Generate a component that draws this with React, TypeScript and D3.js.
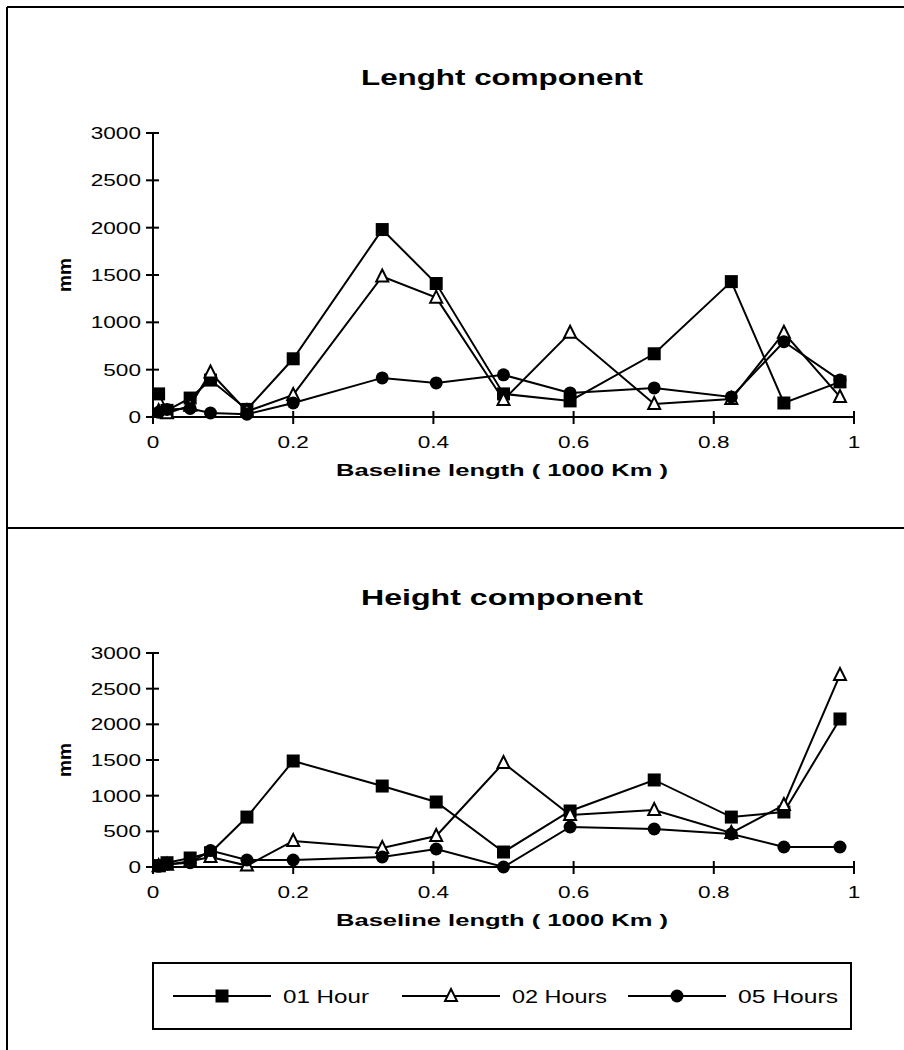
import React from "react";
import * as d3 from "d3";

const baselineKm = [0.008, 0.02, 0.053, 0.082, 0.134, 0.2, 0.327, 0.404, 0.5, 0.595, 0.715, 0.825, 0.9, 0.98];

const lengthHour1 = [244, 70, 200, 390, 80, 615, 1980, 1410, 244, 170, 668, 1430, 148, 371];
const lengthHour2 = [60, 40, 120, 470, 60, 233, 1484, 1261, 180, 890, 138, 190, 890, 212];
const lengthHour5 = [50, 80, 90, 42, 30, 148, 413, 360, 445, 254, 307, 212, 795, 390];

const heightHour1 = [20, 60, 126, 200, 700, 1486, 1135, 911, 210, 785, 1220, 700, 771, 2075];
const heightHour2 = [10, 30, 80, 140, 20, 365, 266, 435, 1458, 729, 799, 477, 869, 2692];
const heightHour5 = [10, 40, 60, 230, 98, 98, 140, 252, 0, 561, 533, 463, 280, 280];

const seriesNames = ["01 Hour", "02 Hours", "05 Hours"];
const seriesMarkers = ["square", "triangle", "circle"];
const xTicks = [0, 0.2, 0.4, 0.6, 0.8, 1];
const yTicks = [0, 500, 1000, 1500, 2000, 2500, 3000];

const FONT = "'Liberation Sans', Arial, sans-serif";
const SX = 1.33;

function Marker({ type, x, y }: { type: string; x: number; y: number }) {
  if (type === "square") return <rect x={x - 6.5} y={y - 6.5} width={13} height={13} fill="#000" />;
  if (type === "triangle")
    return (
      <path
        d={`M${x},${y - 7}L${x + 6},${y + 5}L${x - 6},${y + 5}Z`}
        fill="#fff"
        stroke="#000"
        strokeWidth={2}
      />
    );
  return <circle cx={x} cy={y} r={6.5} fill="#000" />;
}

function Panel({ title, top, yTop, yBottom, data }: { title: string; top: number; yTop: number; yBottom: number; data: number[][] }) {
  const x = d3.scaleLinear().domain([0, 1]).range([153, 854]);
  const y = d3.scaleLinear().domain([0, 3000]).range([yBottom, yTop]);
  const line = d3
    .line<number>()
    .x((_, i) => x(baselineKm[i]))
    .y((d) => y(d));
  return (
    <g>
      <text
        x={502}
        y={top}
        textAnchor="middle"
        fontFamily={FONT}
        fontWeight="bold"
        fontSize={22}
        textLength={282}
        lengthAdjust="spacingAndGlyphs"
      >
        {title}
      </text>
      <text
        transform={`translate(71,${(yTop + yBottom) / 2}) rotate(-90)`}
        textAnchor="middle"
        fontFamily={FONT}
        fontWeight="bold"
        fontSize={18}
        textLength={34}
        lengthAdjust="spacingAndGlyphs"
      >
        mm
      </text>
      <line x1={x(0)} x2={x(0)} y1={y(3000)} y2={y(0)} stroke="#000" strokeWidth={2} />
      <line x1={x(0)} x2={x(1)} y1={y(0)} y2={y(0)} stroke="#000" strokeWidth={2} />
      {yTicks.map((t) => (
        <g key={t}>
          <line x1={x(0) - 7} x2={x(0) + 6} y1={y(t)} y2={y(t)} stroke="#000" strokeWidth={2} />
          <text
            transform={`translate(141,${y(t) + 6}) scale(${SX},1)`}
            textAnchor="end"
            fontFamily={FONT}
            fontSize={17}
          >
            {t}
          </text>
        </g>
      ))}
      {xTicks.map((t) => (
        <g key={t}>
          <line x1={x(t)} x2={x(t)} y1={y(0) - 6} y2={y(0) + 7} stroke="#000" strokeWidth={2} />
          <text
            transform={`translate(${x(t)},${y(0) + 31}) scale(${SX},1)`}
            textAnchor="middle"
            fontFamily={FONT}
            fontSize={17}
          >
            {d3.format("")(t)}
          </text>
        </g>
      ))}
      <text
        x={502}
        y={y(0) + 59}
        textAnchor="middle"
        fontFamily={FONT}
        fontWeight="bold"
        fontSize={17}
        textLength={332}
        lengthAdjust="spacingAndGlyphs"
      >
        Baseline length ( 1000 Km )
      </text>
      {data.map((vals, si) => (
        <g key={si}>
          <path d={line(vals) || ""} fill="none" stroke="#000" strokeWidth={2} />
          {vals.map((v, i) => (
            <Marker key={i} type={seriesMarkers[si]} x={x(baselineKm[i])} y={y(v)} />
          ))}
        </g>
      ))}
    </g>
  );
}

export default function App() {
  const legendX = [173, 402, 628];
  const legendTextW = [86, 95, 100];
  return (
    <svg width={904} height={1050} style={{ position: "absolute", left: 0, top: 0, background: "#fff" }}>
      <rect x={0} y={0} width={904} height={1050} fill="#fff" />
      <line x1={7} x2={904} y1={7} y2={7} stroke="#000" strokeWidth={2} />
      <line x1={7} x2={7} y1={7} y2={1050} stroke="#000" strokeWidth={2} />
      <line x1={7} x2={904} y1={528} y2={528} stroke="#000" strokeWidth={2} />
      <Panel title="Lenght component" top={85} yTop={133} yBottom={417} data={[lengthHour1, lengthHour2, lengthHour5]} />
      <Panel title="Height component" top={605} yTop={653} yBottom={867} data={[heightHour1, heightHour2, heightHour5]} />
      <rect x={153} y={963} width={698} height={66} fill="none" stroke="#000" strokeWidth={2} />
      {seriesNames.map((n, i) => (
        <g key={n}>
          <line x1={legendX[i]} x2={legendX[i] + 98} y1={996} y2={996} stroke="#000" strokeWidth={2} />
          <Marker type={seriesMarkers[i]} x={legendX[i] + 49} y={996} />
          <text
            x={legendX[i] + 110}
            y={1003}
            fontFamily={FONT}
            fontSize={19}
            textLength={legendTextW[i]}
            lengthAdjust="spacingAndGlyphs"
          >
            {n}
          </text>
        </g>
      ))}
    </svg>
  );
}
